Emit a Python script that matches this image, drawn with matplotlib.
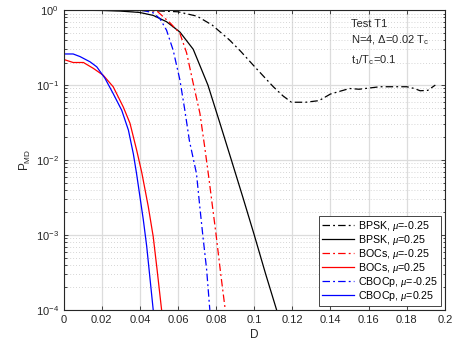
import matplotlib
matplotlib.use('agg')
import matplotlib.pyplot as plt
from matplotlib.ticker import LogLocator, NullFormatter

plt.rcParams['font.family'] = ['Liberation Sans', 'DejaVu Sans']
plt.rcParams['mathtext.fontset'] = 'custom'
plt.rcParams['mathtext.rm'] = 'Liberation Sans'
plt.rcParams['mathtext.it'] = 'Liberation Serif:italic'
plt.rcParams['mathtext.default'] = 'regular'

x_ticks = [0, 0.02, 0.04, 0.06, 0.08, 0.1, 0.12, 0.14, 0.16, 0.18, 0.2]
x_labels = ['0', '0.02', '0.04', '0.06', '0.08', '0.1', '0.12', '0.14', '0.16', '0.18', '0.2']

# BPSK, mu=-0.25 (dash-dot black)
d_bpsk_m = [0, 0.02, 0.04, 0.05, 0.06, 0.07, 0.078, 0.087, 0.093, 0.099, 0.105, 0.11,
            0.115, 0.1195, 0.127, 0.134, 0.14, 0.15, 0.155, 0.166, 0.18, 0.184, 0.187,
            0.191, 0.195]
p_bpsk_m = [1.0, 0.995, 0.985, 0.975, 0.95, 0.83, 0.63, 0.4, 0.28, 0.19, 0.13, 0.095,
            0.072, 0.059, 0.059, 0.062, 0.076, 0.09, 0.088, 0.095, 0.095, 0.09, 0.084,
            0.085, 0.1]
# BPSK, mu=0.25 (solid black)
d_bpsk_p = [0, 0.02, 0.03, 0.04, 0.047, 0.054, 0.061, 0.068, 0.0757, 0.082, 0.088,
            0.094, 0.100, 0.106, 0.112]
p_bpsk_p = [1.0, 0.99, 0.97, 0.93, 0.85, 0.70, 0.51, 0.30, 0.1, 0.031, 0.01, 0.0032,
            1e-3, 3e-4, 0.95e-4]
# BOCs, mu=-0.25 (dash-dot red)
d_bocs_m = [0, 0.03, 0.045, 0.049, 0.056, 0.061, 0.0645, 0.068, 0.0715, 0.074, 0.0763,
            0.078, 0.080, 0.0823, 0.0848]
p_bocs_m = [1.0, 1.0, 0.99, 0.97, 0.67, 0.49, 0.27, 0.105, 0.042, 0.015, 0.0055,
            0.0025, 1e-3, 3.2e-4, 1e-4]
# BOCs, mu=0.25 (solid red)
d_bocs_p = [0, 0.005, 0.0104, 0.0156, 0.0208, 0.026, 0.0313, 0.0348, 0.0383, 0.041,
            0.0444, 0.047, 0.049, 0.0514]
p_bocs_p = [0.22, 0.2, 0.2, 0.167, 0.135, 0.095, 0.051, 0.031, 0.0136, 0.0068, 0.0024,
            0.00095, 0.00035, 1e-4]
# CBOCp, mu=-0.25 (dash-dot blue)
d_cbocp_m = [0, 0.03, 0.0417, 0.047, 0.0505, 0.054, 0.0575, 0.061, 0.0636, 0.066,
             0.0697, 0.0715, 0.073, 0.075, 0.0767]
p_cbocp_m = [1.0, 1.0, 0.99, 0.92, 0.77, 0.54, 0.29, 0.117, 0.046, 0.018, 0.0066,
             0.0023, 1e-3, 3.5e-4, 1e-4]
# CBOCp, mu=0.25 (solid blue)
d_cbocp_p = [0, 0.005, 0.0086, 0.0139, 0.0174, 0.0217, 0.026, 0.0305, 0.034, 0.0366,
             0.0383, 0.0418, 0.0436, 0.047]
p_cbocp_p = [0.26, 0.26, 0.24, 0.204, 0.175, 0.123, 0.077, 0.046, 0.025, 0.012,
             0.0065, 0.0016, 0.0007, 1e-4]

fig = plt.figure(figsize=(4.61, 3.49), dpi=100)
ax = fig.add_axes([0.138, 0.112, 0.827, 0.859])

dd = (0, (6, 2.5, 1.5, 2.5))
lw = 0.9
ax.plot(d_bpsk_m, p_bpsk_m, color='k', ls=dd, lw=lw, label=r'BPSK, $\mathit{\mu}$=-0.25')
ax.plot(d_bpsk_p, p_bpsk_p, color='k', ls='-', lw=lw, label=r'BPSK, $\mathit{\mu}$=0.25')
ax.plot(d_bocs_m, p_bocs_m, color='r', ls=dd, lw=lw, label=r'BOCs, $\mathit{\mu}$=-0.25')
ax.plot(d_bocs_p, p_bocs_p, color='r', ls='-', lw=lw, label=r'BOCs, $\mathit{\mu}$=0.25')
ax.plot(d_cbocp_m, p_cbocp_m, color='b', ls=dd, lw=lw, label=r'CBOCp, $\mathit{\mu}$=-0.25')
ax.plot(d_cbocp_p, p_cbocp_p, color='b', ls='-', lw=lw, label=r'CBOCp, $\mathit{\mu}$=0.25')

ax.set_yscale('log')
ax.set_xlim(0, 0.2)
ax.set_ylim(1e-4, 1)
ax.set_xticks(x_ticks)
ax.set_xticklabels(x_labels)
ax.yaxis.set_major_locator(LogLocator(base=10, numticks=10))
ax.yaxis.set_minor_locator(LogLocator(base=10, subs=range(2, 10), numticks=10))
ax.yaxis.set_minor_formatter(NullFormatter())

ax.grid(True, which='major', color='#dcdcdc', lw=0.9)
ax.grid(True, which='minor', axis='y', color='#c8c8c8', lw=0.6, ls=(0, (1, 2.5)))
ax.set_axisbelow(True)

ax.tick_params(which='both', direction='in', top=True, right=True, labelsize=8,
               colors='#262626', width=0.6)
ax.tick_params(which='major', length=3)
ax.tick_params(which='minor', length=1.8)
for s in ax.spines.values():
    s.set_linewidth(0.8)
    s.set_color('#262626')

ax.set_xlabel('D', fontsize=8.5, color='#262626', labelpad=3)
ax.set_ylabel('P$_{MD}$', fontsize=8.5, color='#262626', labelpad=2)

ax.text(0.151, 0.65, 'Test T1', fontsize=8, color='#262626', va='center')
ax.text(0.151, 0.40, r'N=4, $\Delta$=0.02 T$_c$', fontsize=8, color='#262626', va='center')
ax.text(0.151, 0.215, 't$_1$/T$_c$=0.1', fontsize=8, color='#262626', va='center')

leg = ax.legend(loc='lower right', fontsize=7.7, frameon=True, fancybox=False,
                edgecolor='#262626', framealpha=1, handlelength=3.0, handletextpad=0.4,
                labelspacing=0.0, borderpad=0.3, borderaxespad=0.35)
leg.get_frame().set_linewidth(0.6)

fig.savefig('out.png', dpi=100)
